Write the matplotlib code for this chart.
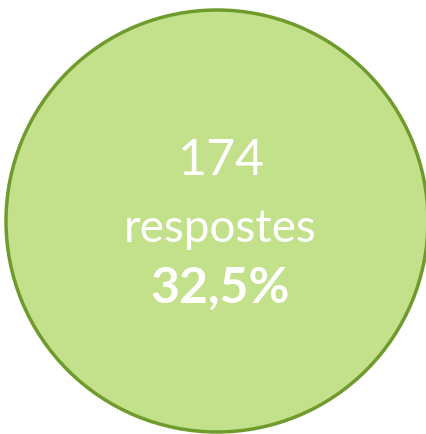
import matplotlib
matplotlib.use("Agg")
import matplotlib.pyplot as plt

count = 174
label = "respostes"
share = "32,5%"

fig = plt.figure(figsize=(4.27, 4.35), dpi=100)
ax = fig.add_axes([0, 0, 1, 1])
ax.pie([count], radius=211, center=(217, 222), startangle=90,
       colors=["#C3E08A"],
       wedgeprops=dict(edgecolor="#6F9B2C", linewidth=2.5))
ax.set_xlim(0, 427)
ax.set_ylim(435, 0)
ax.set_aspect("auto")
ax.axis("off")

ax.text(221, 161, str(count), ha="center", va="center", color="white",
        fontsize=36, family="Lato")
ax.text(220, 229, label, ha="center", va="center", color="white",
        fontsize=33, family="Lato")
ax.text(220, 288, share, ha="center", va="center", color="white",
        fontsize=36, family="Lato", fontweight="bold")

fig.savefig("out.png", dpi=100)
